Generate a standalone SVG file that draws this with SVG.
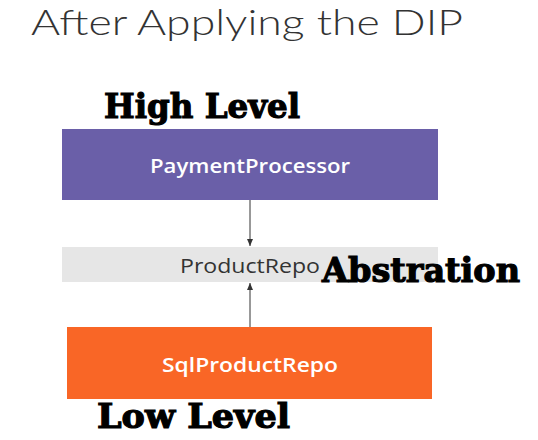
<svg xmlns="http://www.w3.org/2000/svg" width="538" height="440" viewBox="0 0 538 440">
<defs>
<style>
.title{font-family:Lato,"Open Sans","Liberation Sans",sans-serif;font-weight:300;font-size:35px;fill:#333}
.lbl{font-family:"Open Sans","Liberation Sans",sans-serif;font-size:20px;font-weight:600;text-anchor:middle}
.fancy{font-family:"DejaVu Serif","Liberation Serif",serif;font-weight:bold;font-size:34px;fill:#000;stroke:#000;stroke-width:1.2}
.conn{stroke:#333;stroke-width:1;fill:none}
</style>
<marker id="ah" markerWidth="8" markerHeight="8" refX="7" refY="4" orient="auto" markerUnits="userSpaceOnUse">
<path d="M0,1 L7,4 L0,7 Z" fill="#333"/>
</marker>
</defs>
<rect width="538" height="440" fill="#fff"/>
<text class="title" x="31" y="35" textLength="432" lengthAdjust="spacingAndGlyphs">After Applying the DIP</text>
<g id="connectors">
<line class="conn" x1="250" y1="200" x2="250" y2="246" marker-end="url(#ah)"/>
<line class="conn" x1="250" y1="327" x2="250" y2="283" marker-end="url(#ah)"/>
</g>
<g id="PaymentProcessor">
<rect x="62" y="129" width="376" height="71" fill="#6a5fa8"/>
<text class="lbl" x="250" y="173" fill="#fff" textLength="200" lengthAdjust="spacingAndGlyphs">PaymentProcessor</text>
</g>
<g id="ProductRepo">
<rect x="62" y="247" width="376" height="35" fill="#e6e6e6"/>
<text class="lbl" x="250" y="273" fill="#333" style="font-weight:500" textLength="140" lengthAdjust="spacingAndGlyphs">ProductRepo</text>
</g>
<g id="SqlProductRepo">
<rect x="67" y="327" width="365" height="72" fill="#f96626"/>
<text class="lbl" x="250" y="372" fill="#fff" textLength="176" lengthAdjust="spacingAndGlyphs">SqlProductRepo</text>
</g>
<text class="fancy" x="104" y="118" textLength="196" lengthAdjust="spacingAndGlyphs">High Level</text>
<text class="fancy" x="322" y="282" textLength="198" lengthAdjust="spacingAndGlyphs">Abstration</text>
<text class="fancy" x="97" y="428" textLength="193" lengthAdjust="spacingAndGlyphs">Low Level</text>
</svg>
